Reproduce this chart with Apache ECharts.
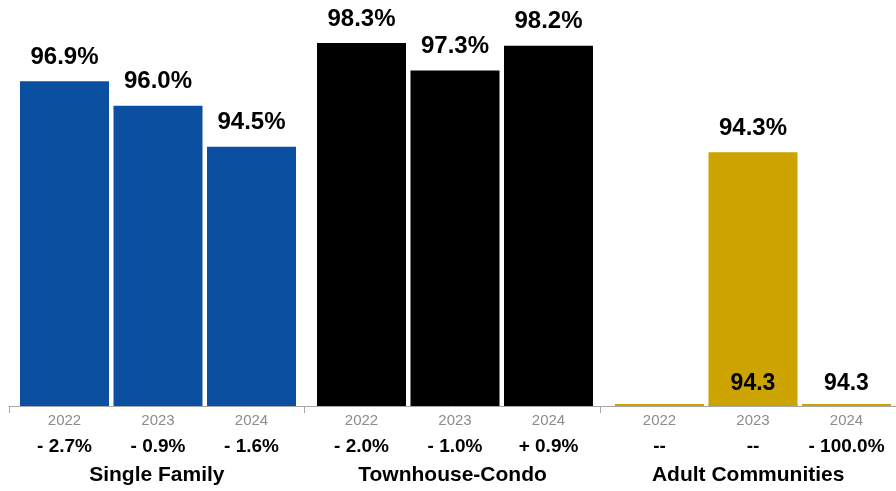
<!DOCTYPE html>
<html>
<head>
<meta charset="utf-8">
<style>
  html, body { margin: 0; padding: 0; background: #ffffff; }
  #chart { width: 896px; height: 491px; }
</style>
<script src="https://cdn.jsdelivr.net/npm/echarts@6/dist/echarts.min.js"></script>
</head>
<body>
<div id="chart"></div>
<script>
// Percent of list price received, by property type and year
const years = ['2022', '2023', '2024'];
const groupNames = ['Single Family', 'Townhouse-Condo', 'Adult Communities'];

const singleFamilyValues = [96.9, 96.0, 94.5];
const townhouseValues = [98.3, 97.3, 98.2];
const adultValues = [null, 94.3, 0];

const singleFamilyChange = ['- 2.7%', '- 0.9%', '- 1.6%'];
const townhouseChange = ['- 2.0%', '- 1.0%', '+ 0.9%'];
const adultChange = ['--', '--', '- 100.0%'];

// Small figures shown just above the baseline of the Adult Communities bars
const adultBaseLabels = ['', '94.3', '94.3'];

const yMin = 85;
const yMax = 99;

const FONT = "'Liberation Sans', Arial, Helvetica, sans-serif";
const colors = ['#0B4FA0', '#000000', '#CCA300'];

const gridLefts = [17.75, 314.75, 612.75];
const gridWidth = 280.5;
const gridTop = 24;
const gridBottom = 85;

const groups = [
  { values: singleFamilyValues, change: singleFamilyChange },
  { values: townhouseValues, change: townhouseChange },
  { values: adultValues, change: adultChange }
];

const grids = [];
const xAxes = [];
const yAxes = [];
const series = [];

groups.forEach((g, i) => {
  grids.push({ left: gridLefts[i], width: gridWidth, top: gridTop, bottom: gridBottom });
  xAxes.push({
    type: 'category',
    gridIndex: i,
    data: years,
    axisLine: { show: false },
    axisTick: { show: false },
    axisLabel: {
      margin: 2,
      interval: 0,
      formatter: (value, idx) => '{y|' + value + '}\n{c|' + g.change[idx] + '}',
      rich: {
        y: { fontFamily: FONT, fontSize: 15, color: '#8c8c8c', lineHeight: 26 },
        c: { fontFamily: FONT, fontSize: 19, fontWeight: 'bold', color: '#000', lineHeight: 26 }
      }
    }
  });
  yAxes.push({
    type: 'value',
    gridIndex: i,
    min: yMin,
    max: yMax,
    startValue: yMin,
    show: false,
    splitLine: { show: false }
  });
  series.push({
    type: 'bar',
    xAxisIndex: i,
    yAxisIndex: i,
    data: g.values,
    barWidth: 89,
    barGap: '-100%',
    itemStyle: { color: colors[i] },
    label: {
      show: true,
      position: 'top',
      distance: 12,
      fontFamily: FONT,
      fontSize: 24,
      fontWeight: 'bold',
      color: '#000',
      formatter: p => (p.value != null && p.value > yMin) ? p.value.toFixed(1) + '%' : ''
    },
    z: 3
  });
});

// Baseline strip for the Adult Communities bars, carrying the small figures
series.push({
  type: 'bar',
  xAxisIndex: 2,
  yAxisIndex: 2,
  data: years.map(() => yMin),
  barWidth: 89,
  barGap: '-100%',
  barMinHeight: 2,
  itemStyle: { color: colors[2] },
  label: {
    show: true,
    position: 'top',
    distance: 9,
    fontFamily: FONT,
    fontSize: 23,
    fontWeight: 'bold',
    color: '#000',
    formatter: p => adultBaseLabels[p.dataIndex]
  },
  z: 4
});

// Shared baseline axis with group names
grids.push({ left: 9, right: -5.5, top: gridTop, bottom: gridBottom });
xAxes.push({
  type: 'category',
  gridIndex: 3,
  data: groupNames,
  axisLine: { show: true, lineStyle: { color: '#a6a6a6', width: 1 } },
  axisTick: { show: true, length: 7, lineStyle: { color: '#a6a6a6' } },
  axisLabel: {
    margin: 59,
    interval: 0,
    fontFamily: FONT,
    fontSize: 21,
    fontWeight: 'bold',
    color: '#000'
  },
  z: 1
});
yAxes.push({ type: 'value', gridIndex: 3, min: 0, max: 1, show: false });

const chart = echarts.init(document.getElementById('chart'), null, { renderer: 'canvas' });
chart.setOption({
  animation: false,
  backgroundColor: '#ffffff',
  grid: grids,
  xAxis: xAxes,
  yAxis: yAxes,
  series: series
});
</script>
</body>
</html>
